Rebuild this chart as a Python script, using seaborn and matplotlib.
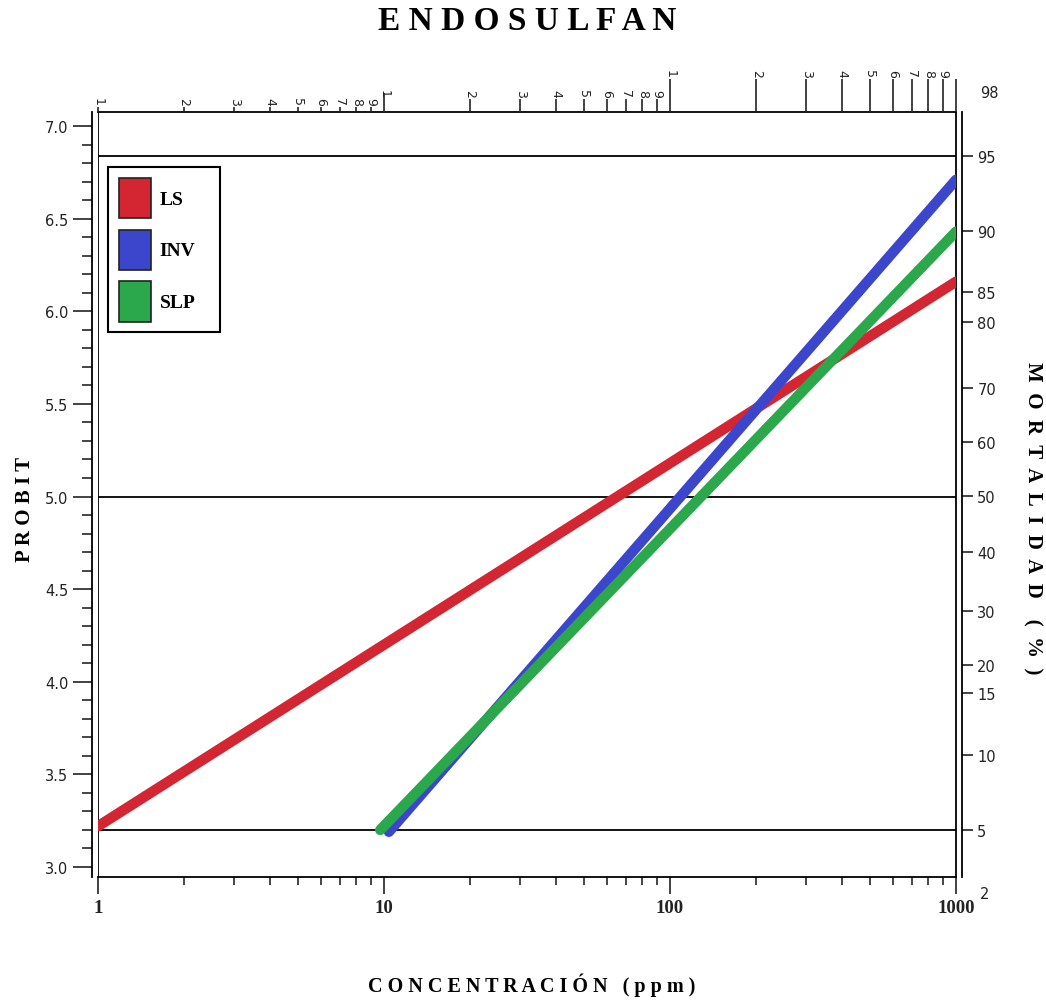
import numpy as np
import pandas as pd
import seaborn as sns
import matplotlib.pyplot as plt
from matplotlib.patches import Patch
from matplotlib.ticker import NullLocator, MultipleLocator, FixedLocator

# probit lines
series = ['LS', 'INV', 'SLP']
conc_ls = [1, 1000]
probit_ls = [3.22, 6.16]
conc_inv = [10.4, 1000]
probit_inv = [3.19, 6.71]
conc_slp = [9.7, 1000]
probit_slp = [3.20, 6.43]
colors = ['#d42632', '#3c46cc', '#2ca84c']

# horizontal reference lines
ref_probits = [6.84, 5.0, 3.2]

# right axis: mortality (%) and their probit positions
mort_labels = ['95', '90', '85', '80', '70', '60', '50', '40', '30', '20', '15', '10', '5']
mort_probit = [6.838, 6.433, 6.104, 5.942, 5.586, 5.294, 5.003, 4.700, 4.382, 4.090, 3.939, 3.605, 3.200]
mort_extra_labels = ['98', '2']
mort_extra_probit = [7.18, 2.855]

# bottom axis ticks
x_ticks = [1, 10, 100, 1000]
x_labels = ['1', '10', '100', '1000']

df = pd.DataFrame({
    'conc': conc_ls + conc_inv + conc_slp,
    'probit': probit_ls + probit_inv + probit_slp,
    'serie': [series[0]] * len(conc_ls) + [series[1]] * len(conc_inv) + [series[2]] * len(conc_slp),
})

sns.set_style('white')
plt.rcParams['font.family'] = ['DejaVu Sans']
plt.rcParams['text.color'] = 'black'
serif = 'Liberation Serif'

fig = plt.figure(figsize=(10.46, 10.04), dpi=100)
ax = fig.add_axes([0.0937, 0.1255, 0.8203, 0.7620])

for p in ref_probits:
    ax.axhline(p, color='black', lw=1.3, zorder=1)

sns.lineplot(data=df, x='conc', y='probit', hue='serie', palette=dict(zip(series, colors)),
             linewidth=7.5, legend=False, ax=ax, sort=False, zorder=3)
for line in ax.lines[len(ref_probits):]:
    line.set_solid_capstyle('round')

ax.set_xscale('log')
ax.set_xlim(1, 1000)
ax.set_ylim(2.946, 7.076)
ax.set(xlabel=None, ylabel=None)

# left axis
ax.set_yticks(np.arange(3.0, 7.01, 0.5))
ax.set_yticklabels(['%.1f' % v for v in np.arange(3.0, 7.01, 0.5)])
ax.yaxis.set_minor_locator(MultipleLocator(0.1))
ax.tick_params(axis='y', which='major', left=True, length=14, width=1.2, labelsize=10.5, pad=3, colors='#222')
ax.tick_params(axis='y', which='minor', left=True, length=7, width=1.2)

# bottom axis
ax.set_xticks(x_ticks)
ax.set_xticklabels(x_labels, fontfamily=serif, fontweight='bold', fontsize=13.5)
ax.tick_params(axis='x', which='major', bottom=True, length=12, width=1.2, pad=4, colors='#222')
ax.tick_params(axis='x', which='minor', bottom=True, length=6, width=1.2)

for s in ax.spines.values():
    s.set_color('black')
    s.set_linewidth(1.3)
ax.spines['left'].set_position(('outward', 4.3))
ax.axvline(1, color='black', lw=1.3, zorder=2)

# top axis: log paper cycles
for base, length in [(1, 3.5), (10, 9.5), (100, 24)]:
    tw = ax.twiny()
    tw.set_xscale('log')
    tw.set_xlim(1, 1000)
    ticks = [base * k for k in range(1, 10)]
    labels = [str(k) for k in range(1, 10)]
    if base == 100:
        ticks.append(1000)
        labels.append('')
    tw.xaxis.set_major_locator(FixedLocator(ticks))
    tw.set_xticklabels(labels)
    tw.xaxis.set_minor_locator(NullLocator())
    tw.tick_params(axis='x', top=True, bottom=False, length=length, width=1.2, pad=1.5,
                   labelsize=9, labelrotation=-90, colors='#222')
    for s in tw.spines.values():
        s.set_visible(False)
    if base == 10:
        tw.xaxis.get_major_ticks()[0].tick2line.set_markersize(14)

# right axis: mortality
tr = ax.twinx()
tr.set_ylim(ax.get_ylim())
tr.yaxis.set_major_locator(FixedLocator(mort_probit))
tr.set_yticklabels(mort_labels)
tr.yaxis.set_minor_locator(NullLocator())
tr.tick_params(axis='y', right=True, length=8, width=1.2, labelsize=10.5, pad=3, colors='#222')
for name, s in tr.spines.items():
    s.set_visible(name == 'right')
tr.spines['right'].set_position(('outward', 4.3))
tr.spines['right'].set_linewidth(1.3)
tr.spines['right'].set_color('black')
for lab, p in zip(mort_extra_labels, mort_extra_probit):
    tr.annotate(lab, xy=(1, p), xycoords=('axes fraction', 'data'), xytext=(17, 0),
                textcoords='offset points', va='center', ha='left', fontsize=10.5,
                color='#222', annotation_clip=False)

# legend
handles = [Patch(facecolor=c, edgecolor='#222', lw=1.2, label=s) for s, c in zip(series, colors)]
leg = ax.legend(handles=handles, loc='upper left', bbox_to_anchor=(0.0117, 0.5, 0.1305, 0.428),
                mode='expand', frameon=True, fancybox=False, edgecolor='black', framealpha=1,
                handlelength=1.65, handleheight=2.8, labelspacing=0.6, borderpad=0.55,
                handletextpad=0.45, borderaxespad=0,
                prop={'family': serif, 'weight': 'bold', 'size': 14})
leg.get_frame().set_linewidth(1.5)
leg.set_zorder(10)

# titles
fig.text(0.504, 1 - 22 / 1004, 'E N D O S U L F A N', ha='center', va='center',
         fontsize=24, fontweight='bold', family=serif)
fig.text(532 / 1046, 1 - 985 / 1004, 'C O N C E N T R A C I Ó N   ( p p m )', ha='center', va='center',
         fontsize=14.5, fontweight='bold', family=serif)
fig.text(25 / 1046, 1 - 509 / 1004, 'P R O B I T', ha='center', va='center', rotation=90,
         fontsize=15, fontweight='bold', family=serif)
fig.text(1033 / 1046, 1 - 518 / 1004, 'M  O  R  T  A  L  I  D  A  D    (  %  )', ha='center', va='center',
         rotation=-90, fontsize=15, fontweight='bold', family=serif)

fig.savefig('out.png', dpi=100)
